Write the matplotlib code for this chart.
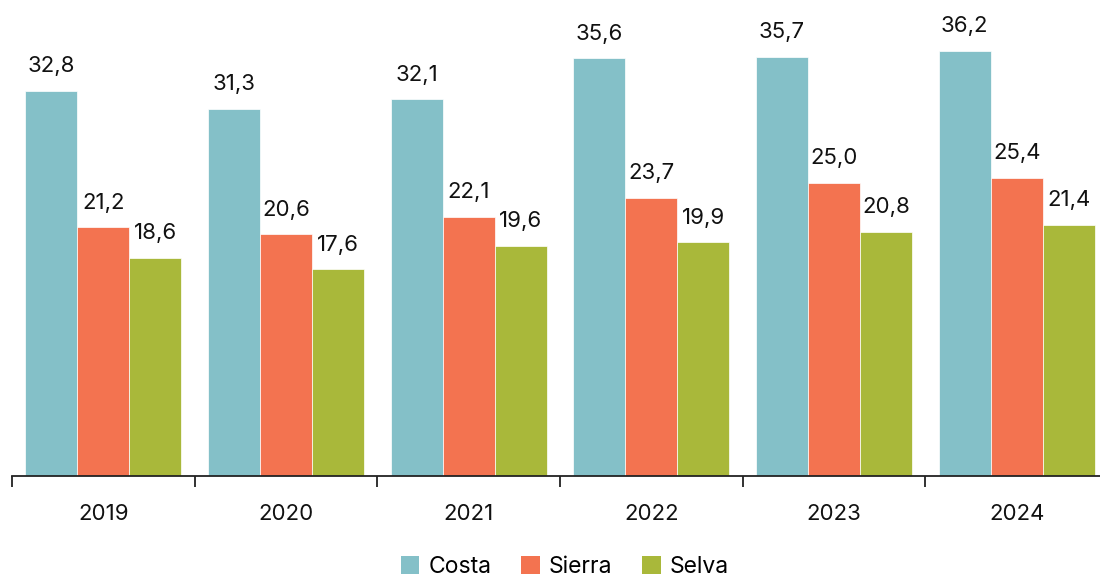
import matplotlib
matplotlib.use("Agg")
import matplotlib.pyplot as plt
from matplotlib.patches import Patch
import numpy as np

years = ["2019", "2020", "2021", "2022", "2023", "2024"]
series_names = ["Costa", "Sierra", "Selva"]
costa = [32.8, 31.3, 32.1, 35.6, 35.7, 36.2]
sierra = [21.2, 20.6, 22.1, 23.7, 25.0, 25.4]
selva = [18.6, 17.6, 19.6, 19.9, 20.8, 21.4]
colors = ["#84C0C8", "#F37350", "#A9B83A"]

plt.rcParams['font.family'] = ['Inter', 'DejaVu Sans']

fig = plt.figure(figsize=(11, 5.78), dpi=100)
ax = fig.add_axes([12/1100, 102/578, 1096/1100, 476/578])

x = np.arange(len(years))
w = 0.285
for i, (vals, c) in enumerate(zip([costa, sierra, selva], colors)):
    pos = x + (i - 1) * w
    ax.bar(pos, vals, width=w, color=c, edgecolor="white", linewidth=0.5)
    for p, v in zip(pos, vals):
        ax.annotate(f"{v:.1f}".replace(".", ","), (p, v), xytext=(0, 10.5),
                    textcoords="offset points", ha="center", va="bottom",
                    fontsize=16, color="#111111")

ax.set_xlim(-0.5, len(years) - 0.5)
ax.set_ylim(0, 40.55)
ax.set_xticks(x)
ax.set_xticklabels(years, fontsize=16, color="#111111")
ax.set_xticks(np.arange(len(years) + 1) - 0.5, minor=True)
ax.tick_params(axis="x", which="major", length=0, pad=20)
ax.tick_params(axis="x", which="minor", length=8, width=1.3, color="#222222")
ax.set_yticks([])
for s in ["top", "right", "left"]:
    ax.spines[s].set_visible(False)
ax.spines["bottom"].set_linewidth(1.3)
ax.spines["bottom"].set_color("#222222")

handles = [Patch(facecolor=c, label=n) for c, n in zip(colors, series_names)]
fig.legend(handles=handles, loc="center", bbox_to_anchor=(565/1100, 1 - 567/578),
           ncol=3, frameon=False, fontsize=16.5, handlelength=0.8, handleheight=0.8,
           handletextpad=0.4, columnspacing=1.3)

fig.savefig("out.png", dpi=100)
